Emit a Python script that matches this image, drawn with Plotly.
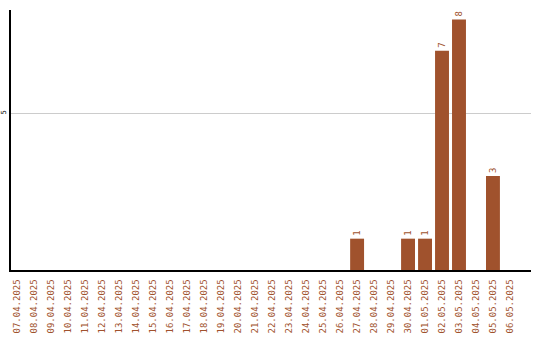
import plotly.graph_objects as go

dates = [
    "07.04.2025", "08.04.2025", "09.04.2025", "10.04.2025", "11.04.2025",
    "12.04.2025", "13.04.2025", "14.04.2025", "15.04.2025", "16.04.2025",
    "17.04.2025", "18.04.2025", "19.04.2025", "20.04.2025", "21.04.2025",
    "22.04.2025", "23.04.2025", "24.04.2025", "25.04.2025", "26.04.2025",
    "27.04.2025", "28.04.2025", "29.04.2025", "30.04.2025", "01.05.2025",
    "02.05.2025", "03.05.2025", "04.05.2025", "05.05.2025", "06.05.2025",
]
counts = [0, 0, 0, 0, 0, 0, 0, 0, 0, 0,
          0, 0, 0, 0, 0, 0, 0, 0, 0, 0,
          1, 0, 0, 1, 1, 7, 8, 0, 3, 0]

BAR = "#A0522D"
labels = [str(v) if v else "" for v in counts]

fig = go.Figure(
    go.Bar(
        x=dates,
        y=counts,
        marker=dict(color=BAR, line=dict(width=0)),
        text=labels,
        textposition="outside",
        textangle=-90,
        textfont=dict(family="DejaVu Sans Mono", size=9, color=BAR),
        cliponaxis=False,
        hoverinfo="x+y",
    )
)

fig.update_layout(
    width=540,
    height=340,
    margin=dict(l=11, r=9, t=10, b=70),
    paper_bgcolor="white",
    plot_bgcolor="white",
    bargap=0.18,
    showlegend=False,
    xaxis=dict(
        type="category",
        range=[-0.38, 30.24],
        tickangle=-90,
        tickfont=dict(family="DejaVu Sans Mono", size=9, color=BAR),
        showline=True,
        linecolor="black",
        linewidth=1.5,
        showgrid=False,
        ticks="",
        ticklabelstandoff=4,
        automargin=False,
    ),
    yaxis=dict(
        range=[0, 8.3],
        tickvals=[5],
        ticktext=["5"],
        tickangle=-90,
        tickfont=dict(family="DejaVu Sans Mono", size=7, color="black"),
        showline=True,
        linecolor="black",
        linewidth=1.5,
        showgrid=True,
        gridcolor="#cccccc",
        gridwidth=1,
        zeroline=False,
        ticks="",
        ticklabelstandoff=0,
        automargin=False,
    ),
)

fig.write_html("out.html")
